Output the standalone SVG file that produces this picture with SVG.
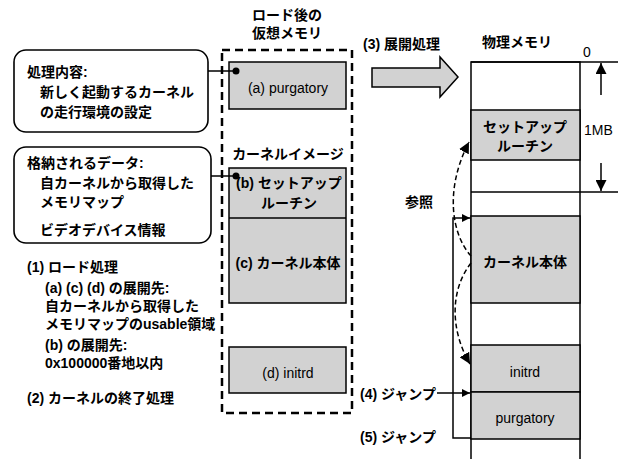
<svg xmlns="http://www.w3.org/2000/svg" width="621" height="459" viewBox="0 0 621 459">
<defs>
<style>
text{font-family:"Liberation Sans","Noto Sans CJK JP",sans-serif;font-size:14px;fill:#000;font-weight:bold}
.lat{font-weight:normal}
.mid{text-anchor:middle}
.gray{fill:#d2d2d2;stroke:#000;stroke-width:1.5}
.white{fill:#fff;stroke:#000;stroke-width:1.5}
.call{fill:#fff;stroke:#000;stroke-width:1.6}
.line{fill:none;stroke:#000;stroke-width:1.5}
.dash{fill:none;stroke:#000;stroke-width:1.5;stroke-dasharray:5 3}
</style>
<marker id="ah" viewBox="0 0 10 10" refX="10" refY="5" markerWidth="8" markerHeight="8" markerUnits="userSpaceOnUse" orient="auto">
<path d="M0,0 L10,5 L0,10 z" fill="#000"/>
</marker>
<marker id="ah2" viewBox="0 0 10 10" refX="10" refY="5" markerWidth="11" markerHeight="11" markerUnits="userSpaceOnUse" orient="auto">
<path d="M0,0 L10,5 L0,10 z" fill="#000"/>
</marker>
</defs>
<rect width="621" height="459" fill="#fff"/>

<g id="callout1">
<rect class="call" x="14" y="50" width="194" height="82" rx="12"/>
<text x="27" y="77">処理内容:</text>
<text x="40" y="97">新しく起動するカーネル</text>
<text x="40" y="117">の走行環境の設定</text>
</g>
<g id="callout2">
<rect class="call" x="14" y="147" width="197" height="96" rx="12"/>
<text x="27" y="168">格納されるデータ:</text>
<text x="40" y="188">自カーネルから取得した</text>
<text x="40" y="207">メモリマップ</text>
<text x="40" y="235">ビデオデバイス情報</text>
</g>
<g id="notes">
<text x="27" y="272">(1) ロード処理</text>
<text x="45" y="293">(a) (c) (d) の展開先:</text>
<text x="45" y="311">自カーネルから取得した</text>
<text x="45" y="329">メモリマップのusable領域</text>
<text x="45" y="350">(b) の展開先:</text>
<text x="45" y="368">0x100000番地以内</text>
<text x="27" y="403">(2) カーネルの終了処理</text>
</g>

<g id="virtual-memory">
<text class="mid" x="287" y="20">ロード後の</text>
<text class="mid" x="287" y="38">仮想メモリ</text>
<rect x="222" y="50" width="130" height="363" fill="none" stroke="#000" stroke-width="2.5" stroke-dasharray="8 5"/>
</g>
<g id="v-purgatory">
<rect class="gray" x="229" y="62" width="117" height="47"/>
<text class="mid lat" x="288" y="93">(a) purgatory</text>
</g>
<g id="v-kernel-image">
<text class="mid" x="288" y="159">カーネルイメージ</text>
<rect class="gray" x="229" y="168" width="117" height="135"/>
<line class="line" x1="229" y1="218" x2="346" y2="218"/>
<text class="mid" x="289" y="188">(b) セットアップ</text>
<text class="mid" x="289" y="208">ルーチン</text>
<text class="mid" x="288" y="268">(c) カーネル本体</text>
</g>
<g id="v-initrd">
<rect class="gray" x="229" y="347" width="117" height="46"/>
<text class="mid lat" x="288" y="378">(d) initrd</text>
</g>

<g id="expand-arrow">
<polygon points="372,68 440,68 440,57 458,77 440,97 440,87 372,87" fill="#d2d2d2" stroke="#000" stroke-width="1.5"/>
<text x="363" y="49">(3) 展開処理</text>
</g>

<g id="physical-memory">
<text class="mid" x="517" y="47">物理メモリ</text>
<text class="lat" x="583" y="57">0</text>
<rect class="white" x="471" y="62" width="109" height="400"/>
<rect class="gray" x="471" y="110" width="109" height="50"/>
<text class="mid" x="525" y="132">セットアップ</text>
<text class="mid" x="525" y="151">ルーチン</text>
<rect class="gray" x="471" y="216" width="109" height="87"/>
<text class="mid" x="525" y="267">カーネル本体</text>
<rect class="gray" x="471" y="345" width="109" height="47"/>
<text class="mid lat" x="525" y="377">initrd</text>
<rect class="gray" x="471" y="392" width="109" height="47"/>
<text class="mid lat" x="525" y="423">purgatory</text>
<line class="line" x1="471" y1="62" x2="618" y2="62"/>
<line class="line" x1="471" y1="192" x2="618" y2="192"/>
<text class="lat" x="584" y="135">1MB</text>
</g>

<g id="connectors">
<line class="line" x1="208" y1="71" x2="236" y2="71"/>
<circle cx="236" cy="71" r="3.5"/>
<line class="line" x1="211" y1="176" x2="236" y2="176"/>
<circle cx="236" cy="176" r="3.5"/>
<line class="line" x1="601" y1="95" x2="601" y2="63" marker-end="url(#ah2)"/>
<line class="line" x1="601" y1="163" x2="601" y2="191" marker-end="url(#ah2)"/>
<path class="dash" d="M471,256 C452,235 444,190 469,142" marker-end="url(#ah2)"/>
<path class="dash" d="M471,263 C450,290 450,330 470,364" marker-end="url(#ah2)"/>
<text x="405" y="207">参照</text>
<line class="line" x1="437" y1="393" x2="470" y2="393" marker-end="url(#ah)"/>
<text x="360" y="399">(4) ジャンプ</text>
<polyline class="line" points="471,438 453,438 453,218 470,218" marker-end="url(#ah)"/>
<text x="360" y="442">(5) ジャンプ</text>
</g>
</svg>
